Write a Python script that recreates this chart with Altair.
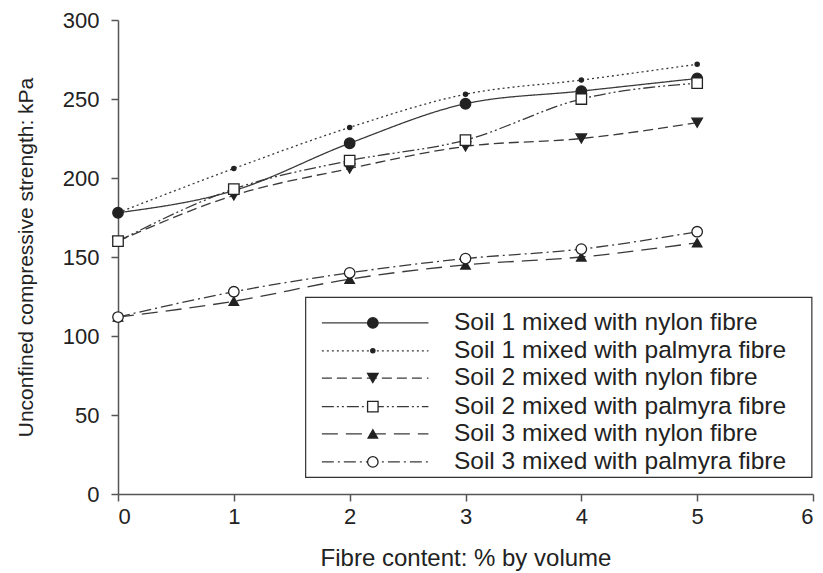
import altair as alt
import pandas as pd

fibre = [0, 1, 2, 3, 4, 5]
series_names = [
    "Soil 1 mixed with nylon fibre",
    "Soil 1 mixed with palmyra fibre",
    "Soil 2 mixed with nylon fibre",
    "Soil 2 mixed with palmyra fibre",
    "Soil 3 mixed with nylon fibre",
    "Soil 3 mixed with palmyra fibre",
]
s1_nylon = [178, 192, 222, 247, 255, 263]
s1_palmyra = [178, 206, 232, 253, 262, 272]
s2_nylon = [160, 189, 206, 220, 225, 235]
s2_palmyra = [160, 193, 211, 224, 250, 260]
s3_nylon = [112, 122, 136, 145, 150, 159]
s3_palmyra = [112, 128, 140, 149, 155, 166]
all_values = [s1_nylon, s1_palmyra, s2_nylon, s2_palmyra, s3_nylon, s3_palmyra]

# styles
dashes = [[1, 0], [2, 3], [10, 5], [12, 3, 2, 3, 2, 3], [16, 8], [12, 4, 2, 4]]
shapes = ["circle", "circle", "triangle-down", "square", "triangle-up", "circle"]
filled = [True, True, True, False, True, False]
sizes = [110, 18, 110, 110, 90, 110]
LINE = "#3a3a3a"
FONT = "Liberation Sans"

rows = []
for name, vals in zip(series_names, all_values):
    for x, v in zip(fibre, vals):
        rows.append({"series": name, "fibre": x, "ucs": v})
df = pd.DataFrame(rows)

xscale = alt.Scale(domain=[0, 6], nice=False)
yscale = alt.Scale(domain=[0, 300], nice=False)

layers = []
for i, name in enumerate(series_names):
    d = df[df.series == name]
    base = alt.Chart(d).encode(
        x=alt.X("fibre:Q", scale=xscale),
        y=alt.Y("ucs:Q", scale=yscale),
    )
    layers.append(base.mark_line(color=LINE, strokeWidth=1.3, strokeDash=dashes[i], interpolate="monotone"))
    layers.append(base.mark_point(shape=shapes[i], filled=True,
                                  fill="#222222" if filled[i] else "white",
                                  stroke="#222222", strokeWidth=1.3, opacity=1, size=sizes[i]))

# legend (placed in data units inside the plot area)
leg_box = pd.DataFrame([{"x": 1.62, "x2": 5.99, "y": 124.5, "y2": 10.5}])
legend_box = alt.Chart(leg_box).mark_rect(fill="white", stroke="#333333", strokeWidth=1.2).encode(
    x=alt.X("x:Q", scale=xscale), x2="x2:Q", y=alt.Y("y:Q", scale=yscale), y2="y2:Q")
layers.append(legend_box)

leg_y = [108.3, 90.6, 73.4, 55.3, 38.0, 20.3]
for i, name in enumerate(series_names):
    ld = pd.DataFrame([{"x": 1.76, "x2": 2.68, "xm": 2.2, "xt": 2.9, "y": leg_y[i], "label": name}])
    b = alt.Chart(ld)
    layers.append(b.mark_rule(color=LINE, strokeWidth=1.3, strokeDash=dashes[i]).encode(
        x=alt.X("x:Q", scale=xscale), x2="x2:Q", y=alt.Y("y:Q", scale=yscale)))
    layers.append(b.mark_point(shape=shapes[i], filled=True,
                               fill="#222222" if filled[i] else "white",
                               stroke="#222222", strokeWidth=1.3, opacity=1, size=sizes[i]).encode(
        x=alt.X("xm:Q", scale=xscale), y=alt.Y("y:Q", scale=yscale)))
    layers.append(b.mark_text(align="left", baseline="middle", font=FONT, fontSize=24.5, color="#222222").encode(
        x=alt.X("xt:Q", scale=xscale), y=alt.Y("y:Q", scale=yscale), text="label:N"))

chart = alt.layer(*layers).encode(
    x=alt.X("fibre:Q", scale=xscale,
            axis=alt.Axis(title="Fibre content: % by volume", values=[0, 1, 2, 3, 4, 5, 6], format="d",
                          titleFontSize=24, titlePadding=19, labelPadding=5)),
    y=alt.Y("ucs:Q", scale=yscale,
            axis=alt.Axis(title="Unconfined compressive strength: kPa", values=[0, 50, 100, 150, 200, 250, 300],
                          titleFontSize=21, titlePadding=26, labelPadding=12)),
).properties(
    width=695, height=474,
    padding={"left": 118, "top": 20, "right": 10, "bottom": 79},
    autosize=alt.AutoSizeParams(type="none"),
).configure_view(stroke=None).configure_axis(
    grid=False, domainColor="#555555", tickColor="#555555", domainWidth=1.5, tickWidth=1.5,
    tickSize=7, labelFont=FONT, titleFont=FONT, labelFontSize=22,
    labelColor="#222222", titleColor="#222222", titleFontWeight="normal",
)

chart.save("out.html", embed_options={"renderer": "svg", "actions": False})
